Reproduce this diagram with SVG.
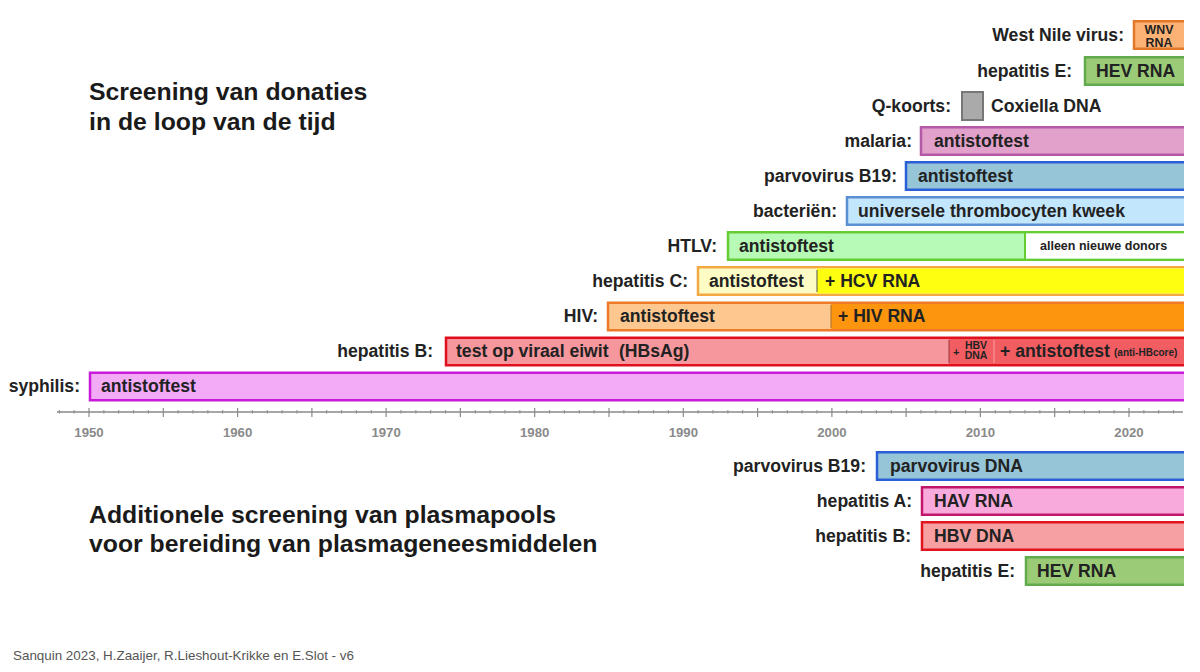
<svg xmlns="http://www.w3.org/2000/svg" width="1200" height="672" viewBox="0 0 1200 672">
<defs>
<clipPath id="clipR"><rect x="0" y="0" width="1184" height="672"/></clipPath>
<style>
text{font-family:"Liberation Sans",Arial,sans-serif;font-weight:bold;fill:#222}
.lbl{font-size:17.6px;text-anchor:end}
.bt{font-size:17.6px}
.title{font-size:24.8px;fill:#1a1a1a}
.ax{font-size:13.2px;fill:#8a8a8a;text-anchor:middle}
.sm{font-size:12.5px}
.tiny{font-size:10.5px}
.foot{font-size:13.4px;font-weight:normal;fill:#555}
.bar{stroke-width:2.5}
</style>
</defs>
<rect width="1200" height="672" fill="#ffffff"/>

<g id="titles">
<text class="title" x="89" y="100">Screening van donaties</text>
<text class="title" x="89" y="130">in de loop van de tijd</text>
<text class="title" x="89" y="523">Additionele screening van plasmapools</text>
<text class="title" x="89" y="552">voor bereiding van plasmageneesmiddelen</text>
</g>

<g clip-path="url(#clipR)">
<g id="wnv">
<text class="lbl" x="1124" y="41">West Nile virus:</text>
<rect class="bar" x="1134" y="21.25" width="60" height="27.5" fill="#fcb274" stroke="#e3782a"/>
<text x="1159" y="34" text-anchor="middle" style="font-size:12.4px">WNV</text>
<text x="1159" y="46.5" text-anchor="middle" style="font-size:12.4px">RNA</text>
</g>
<g id="hev">
<text class="lbl" x="1072" y="77">hepatitis E:</text>
<rect class="bar" x="1085" y="57.25" width="110" height="27.5" fill="#9ccb78" stroke="#62ab4c"/>
<text class="bt" x="1096" y="77">HEV RNA</text>
</g>
<g id="qkoorts">
<text class="lbl" x="951" y="112">Q-koorts:</text>
<rect x="962" y="92" width="21" height="28" fill="#aaaaaa" stroke="#777777" stroke-width="2"/>
<text class="bt" x="991" y="112">Coxiella DNA</text>
</g>
<g id="malaria">
<text class="lbl" x="912" y="147">malaria:</text>
<rect class="bar" x="921" y="127.25" width="280" height="27.5" fill="#e1a1ca" stroke="#b359a8"/>
<text class="bt" x="934" y="147">antistoftest</text>
</g>
<g id="parvo">
<text class="lbl" x="897" y="182">parvovirus B19:</text>
<rect class="bar" x="906" y="162.25" width="300" height="27.5" fill="#96c5d8" stroke="#2a5fd8"/>
<text class="bt" x="918" y="182">antistoftest</text>
</g>
<g id="bacterien">
<text class="lbl" x="837" y="217">bacteriën:</text>
<rect class="bar" x="847" y="197.25" width="350" height="27.5" fill="#c2e6fc" stroke="#5b8fd4"/>
<text class="bt" x="858" y="217">universele thrombocyten kweek</text>
</g>
<g id="htlv">
<text class="lbl" x="717" y="252">HTLV:</text>
<rect class="bar" x="728" y="232.25" width="470" height="27.5" fill="#b6fab6" stroke="#66cc33"/>
<rect x="1025" y="233.5" width="170" height="25" fill="#ffffff"/>
<line x1="1025" y1="233" x2="1025" y2="259" stroke="#66cc33" stroke-width="2"/>
<text class="bt" x="739" y="252">antistoftest</text>
<text class="sm" x="1040" y="250">alleen nieuwe donors</text>
</g>
<g id="hcv">
<text class="lbl" x="688" y="287">hepatitis C:</text>
<rect class="bar" x="698" y="267.25" width="500" height="27.5" fill="#fdfcc4" stroke="#f4a844"/>
<rect x="817" y="268.5" width="380" height="25" fill="#fefe10"/>
<line x1="817" y1="270" x2="817" y2="292" stroke="#555555" stroke-width="1"/>
<text class="bt" x="709" y="287">antistoftest</text>
<text class="bt" x="825" y="287">+ HCV RNA</text>
</g>
<g id="hiv">
<text class="lbl" x="598" y="322">HIV:</text>
<rect class="bar" x="608" y="302.75" width="590" height="27.5" fill="#fdc890" stroke="#ee7a28"/>
<rect x="831" y="304" width="370" height="25" fill="#fd960e"/>
<line x1="831" y1="305" x2="831" y2="328" stroke="#b87830" stroke-width="1.2"/>
<text class="bt" x="620" y="322">antistoftest</text>
<text class="bt" x="838" y="322">+ HIV RNA</text>
</g>
<g id="hepb">
<text class="lbl" x="433" y="357">hepatitis B:</text>
<rect class="bar" x="446" y="337.75" width="750" height="27.5" fill="#f5979c" stroke="#e0101e"/>
<rect x="949" y="339" width="250" height="25" fill="#f25d62"/>
<line x1="949" y1="340" x2="949" y2="363" stroke="#9a3a3e" stroke-width="1"/>
<line x1="994" y1="340" x2="994" y2="363" stroke="#f7a0a4" stroke-width="1"/>
<text class="bt" x="456" y="357">test op viraal eiwit</text>
<text class="bt" x="619" y="357">(HBsAg)</text>
<text x="953" y="356" style="font-size:11px">+</text>
<text class="tiny" x="976" y="348.5" text-anchor="middle">HBV</text>
<text class="tiny" x="976" y="358.5" text-anchor="middle">DNA</text>
<text class="bt" x="1000" y="357">+ antistoftest</text>
<text x="1114" y="356" style="font-size:10px">(anti-HBcore)</text>
</g>
<g id="syphilis">
<text class="lbl" x="80" y="392">syphilis:</text>
<rect class="bar" x="90" y="372.75" width="1110" height="27.5" fill="#f3aaf7" stroke="#c81ad8"/>
<text class="bt" x="101" y="392">antistoftest</text>
</g>

<g id="pool-parvo">
<text class="lbl" x="866" y="472">parvovirus B19:</text>
<rect class="bar" x="877" y="452.25" width="320" height="27.5" fill="#96c5d8" stroke="#2a5fd8"/>
<text class="bt" x="890" y="472">parvovirus DNA</text>
</g>
<g id="pool-hav">
<text class="lbl" x="912" y="507">hepatitis A:</text>
<rect class="bar" x="922" y="487.25" width="280" height="27.5" fill="#f9aadc" stroke="#c2166a"/>
<text class="bt" x="934" y="507">HAV RNA</text>
</g>
<g id="pool-hbv">
<text class="lbl" x="911" y="542">hepatitis B:</text>
<rect class="bar" x="922" y="522.25" width="280" height="27.5" fill="#f6a0a2" stroke="#e2141e"/>
<text class="bt" x="934" y="542">HBV DNA</text>
</g>
<g id="pool-hev">
<text class="lbl" x="1015" y="577">hepatitis E:</text>
<rect class="bar" x="1026" y="557.25" width="180" height="27.5" fill="#9ccb78" stroke="#62ab4c"/>
<text class="bt" x="1037" y="577">HEV RNA</text>
</g>
</g>

<g id="axis" stroke="#8a8a8a" fill="none">
<line x1="57" y1="412" x2="1183" y2="412" stroke-width="1.5"/>
<path stroke-width="1.2" d="M89 408v9M163.3 408v9M237.6 408v9M311.9 408v9M386.1 408v9M460.4 408v9M534.7 408v9M609 408v9M683.3 408v9M757.6 408v9M831.9 408v9M906.1 408v9M980.4 408v9M1054.7 408v9M1129 408v9"/>
<path stroke-width="1" d="M59.3 410v3.5M74.1 410v3.5M103.9 410v3.5M118.7 410v3.5M133.6 410v3.5M148.4 410v3.5M178.1 410v3.5M193 410v3.5M207.9 410v3.5M222.7 410v3.5M252.4 410v3.5M267.3 410v3.5M282.1 410v3.5M297 410v3.5M326.7 410v3.5M341.6 410v3.5M356.4 410v3.5M371.3 410v3.5M401 410v3.5M415.9 410v3.5M430.7 410v3.5M445.6 410v3.5M475.3 410v3.5M490.1 410v3.5M505 410v3.5M519.9 410v3.5M549.6 410v3.5M564.4 410v3.5M579.3 410v3.5M594.1 410v3.5M623.9 410v3.5M638.7 410v3.5M653.6 410v3.5M668.4 410v3.5M698.1 410v3.5M713 410v3.5M727.9 410v3.5M742.7 410v3.5M772.4 410v3.5M787.3 410v3.5M802.1 410v3.5M817 410v3.5M846.7 410v3.5M861.6 410v3.5M876.4 410v3.5M891.3 410v3.5M921 410v3.5M935.9 410v3.5M950.7 410v3.5M965.6 410v3.5M995.3 410v3.5M1010.1 410v3.5M1025 410v3.5M1039.9 410v3.5M1069.6 410v3.5M1084.4 410v3.5M1099.3 410v3.5M1114.1 410v3.5M1143.9 410v3.5M1158.7 410v3.5M1173.6 410v3.5"/>
</g>
<g id="axis-labels">
<text class="ax" x="89" y="437">1950</text>
<text class="ax" x="237.6" y="437">1960</text>
<text class="ax" x="386.1" y="437">1970</text>
<text class="ax" x="534.7" y="437">1980</text>
<text class="ax" x="683.3" y="437">1990</text>
<text class="ax" x="831.9" y="437">2000</text>
<text class="ax" x="980.4" y="437">2010</text>
<text class="ax" x="1129" y="437">2020</text>
</g>
<g id="connectors"/>

<text class="foot" x="13" y="660">Sanquin 2023, H.Zaaijer, R.Lieshout-Krikke en E.Slot - v6</text>
</svg>
